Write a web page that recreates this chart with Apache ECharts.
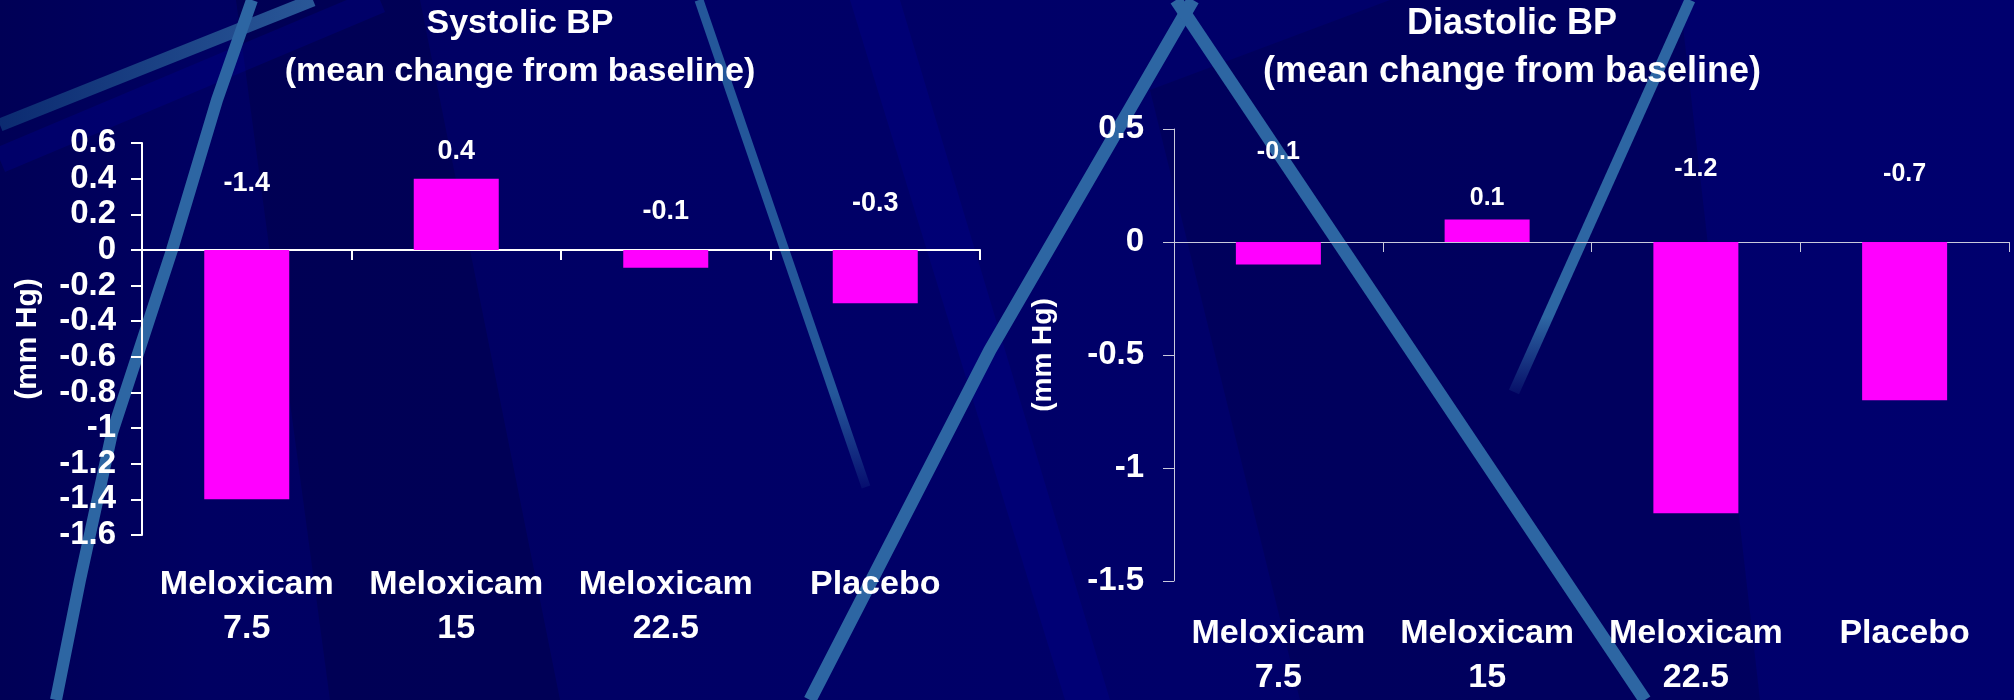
<!DOCTYPE html>
<html>
<head>
<meta charset="utf-8">
<script src="https://cdn.jsdelivr.net/npm/echarts@6/dist/echarts.min.js"></script>
<style>
  html, body { margin: 0; padding: 0; background: #000066; }
  #chart { width: 2014px; height: 700px; }
</style>
</head>
<body>
<div id="chart"></div>
<script>
// ---- data -------------------------------------------------------------
const categories = ['Meloxicam\n7.5', 'Meloxicam\n15', 'Meloxicam\n22.5', 'Placebo'];
const systolicChange = [-1.4, 0.4, -0.1, -0.3];    // mm Hg
const diastolicChange = [-0.1, 0.1, -1.2, -0.7];   // mm Hg
const systolicAxis = { min: -1.6, max: 0.6, interval: 0.2 };
const diastolicAxis = { min: -1.5, max: 0.5, interval: 0.5 };
const systolicTitle = 'Systolic BP\n(mean change from baseline)';
const diastolicTitle = 'Diastolic BP\n(mean change from baseline)';
const unitName = '(mm Hg)';

// ---- layout -----------------------------------------------------------
// vertical placement of each value label, measured from the upper edge of its bar
const systolicLabelLift = [-66, -27, -38, -46];
const diastolicLabelLift = [-90, -21, -73, -68];

const FONT = '"Liberation Sans", Arial, Helvetica, sans-serif';
const WHITE = '#ffffff';
const BAR = '#ff00ff';
const STREAK = '#2d66a3';

const chart = echarts.init(document.getElementById('chart'), null, { renderer: 'canvas' });

const tickText = v => String(Math.round(v * 10) / 10);

function valueAxis(gridIndex, range, lineColor, lineWidth, nameGap, nameSize) {
  return {
    type: 'value', gridIndex,
    min: range.min, max: range.max, interval: range.interval,
    name: unitName, nameLocation: 'middle', nameGap, nameRotate: 90,
    nameTextStyle: { color: WHITE, fontFamily: FONT, fontWeight: 'bold', fontSize: nameSize },
    axisLine: { show: true, lineStyle: { color: lineColor, width: lineWidth } },
    axisTick: { show: true, length: 11, lineStyle: { color: lineColor, width: lineWidth } },
    splitLine: { show: false },
    axisLabel: { color: WHITE, fontFamily: FONT, fontWeight: 'bold', fontSize: 33,
                 margin: gridIndex === 0 ? 26 : 30, formatter: tickText }
  };
}

function labelAxis(gridIndex, margin) {
  return {
    type: 'category', gridIndex, data: categories, position: 'bottom',
    axisLine: { show: false, onZero: false }, axisTick: { show: false },
    axisLabel: { color: WHITE, fontFamily: FONT, fontWeight: 'bold', fontSize: 34,
                 lineHeight: 44, margin, interval: 0 }
  };
}

function zeroAxis(gridIndex, lineColor, lineWidth) {
  return {
    type: 'category', gridIndex, data: categories, position: 'bottom',
    axisLine: { show: true, onZero: true, lineStyle: { color: lineColor, width: lineWidth } },
    axisTick: { show: true, length: 10, interval: 0, lineStyle: { color: lineColor, width: lineWidth } },
    axisLabel: { show: false }
  };
}

function barSeries(index, values, lifts, fontSize) {
  return {
    type: 'bar', xAxisIndex: index * 2, yAxisIndex: index,
    barWidth: 85,
    itemStyle: { color: BAR },
    data: values.map((v, i) => ({
      value: v,
      label: {
        show: true, position: ['50%', lifts[i]], align: 'center', verticalAlign: 'middle',
        color: WHITE, fontFamily: FONT, fontWeight: 'bold', fontSize,
        formatter: p => String(p.value)
      }
    })),
    silent: true
  };
}

// ---- slide background: navy field with light streaks -------------------
function streak(points, width, stroke) {
  return { type: 'polyline', z: -10, silent: true,
           shape: { points },
           style: { stroke, lineWidth: width, fill: null, lineCap: 'butt', lineJoin: 'round' } };
}
const fading = (from) => ({
  type: 'linear', x: 0, y: 0, x2: 0, y2: 1,
  colorStops: [{ offset: 0, color: from }, { offset: 0.8, color: from },
               { offset: 1, color: 'rgba(45,102,163,0.1)' }]
});

const background = [
  { type: 'rect', z: -20, silent: true, shape: { x: 0, y: 0, width: 2014, height: 700 },
    style: { fill: { type: 'linear', x: 0, y: 0, x2: 1, y2: 0,
      colorStops: [{ offset: 0, color: '#000056' }, { offset: 0.1, color: '#000062' },
                   { offset: 0.5, color: '#000068' }, { offset: 1, color: '#00006e' }] } } },
  { type: 'polygon', z: -15, silent: true,
    shape: { points: [[236, 0], [420, 0], [560, 700], [330, 700]] },
    style: { fill: 'rgba(0,0,20,0.18)' } },
  { type: 'polygon', z: -15, silent: true,
    shape: { points: [[1150, 90], [1390, 0], [1680, 0], [1760, 700], [1300, 700]] },
    style: { fill: 'rgba(0,0,20,0.15)' } },
  { type: 'polygon', z: -14, silent: true,
    shape: { points: [[850, 0], [900, 0], [1110, 700], [1065, 700]] },
    style: { fill: 'rgba(0,0,150,0.28)' } },
  streak([[0, 160], [380, 0]], 26, 'rgba(0,0,150,0.3)'),
  streak([[0, 125], [313, 0]], 13, { type: 'linear', x: 0, y: 0, x2: 1, y2: 0,
    colorStops: [{ offset: 0, color: '#0b2a70' }, { offset: 1, color: '#2a5898' }] }),
  streak([[252, 0], [217, 100], [187, 200], [172, 250], [112, 433], [80, 580], [56, 700]], 12, STREAK),
  streak([[699, 0], [866, 487]], 9, fading('#24579a')),
  streak([[1193, 0], [990, 350], [810, 700]], 13, STREAK),
  streak([[1176, 0], [1645, 700]], 13, STREAK),
  streak([[1690, 0], [1514, 392]], 11, fading(STREAK))
];

chart.setOption({
  animation: false,
  backgroundColor: 'transparent',
  graphic: { elements: background },
  title: [
    { text: systolicTitle, left: 520, top: 0, padding: 0, textAlign: 'center',
      textStyle: { color: WHITE, fontFamily: FONT, fontWeight: 'bold', fontSize: 34, lineHeight: 48 } },
    { text: diastolicTitle, left: 1512, top: 0, padding: 0, textAlign: 'center',
      textStyle: { color: WHITE, fontFamily: FONT, fontWeight: 'bold', fontSize: 36, lineHeight: 48 } }
  ],
  grid: [
    { left: 142, top: 143, width: 838, height: 392, containLabel: false },
    { left: 1174, top: 129, width: 835, height: 461, containLabel: false }
  ],
  xAxis: [
    labelAxis(0, 28), zeroAxis(0, WHITE, 2),
    labelAxis(1, 31), zeroAxis(1, '#c9c9dc', 1)
  ],
  yAxis: [
    valueAxis(0, systolicAxis, WHITE, 2, 99, 30),
    valueAxis(1, diastolicAxis, '#c9c9dc', 1, 117, 28)
  ],
  series: [
    barSeries(0, systolicChange, systolicLabelLift, 27),
    barSeries(1, diastolicChange, diastolicLabelLift, 25)
  ]
});
</script>
</body>
</html>
